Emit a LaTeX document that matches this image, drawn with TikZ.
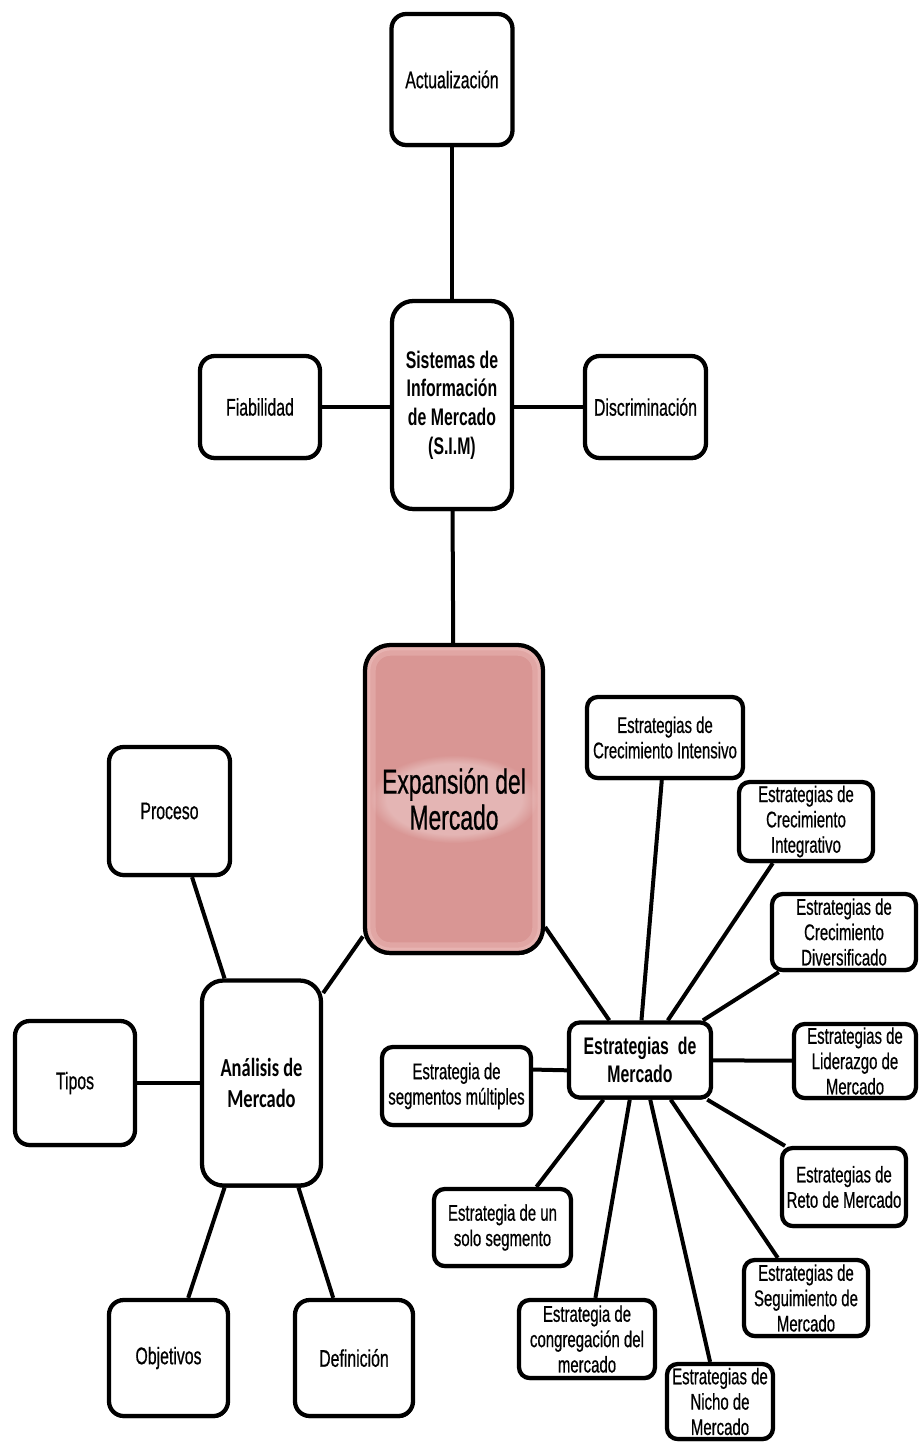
\documentclass[tikz,border=0pt]{standalone}
\usepackage{fontspec}
\setmainfont{Liberation Sans}[FakeStretch=0.66, UprightFeatures={FakeBold=0.6}]
\newfontfamily\calfam{Carlito}[FakeStretch=0.71]
\usetikzlibrary{calc,backgrounds,shadows,fadings}
\definecolor{rosa}{HTML}{D99694}
\definecolor{rosarim}{HTML}{F0C4C3}

\tikzset{
  box/.style={draw=black, line width=3.2pt, fill=white, align=center, inner sep=0pt,
    rounded corners=11pt,
    drop shadow={shadow xshift=0.5pt, shadow yshift=-1.6pt, fill=black, opacity=1}},
  sz/.style 2 args={minimum width=#1*0.75pt, minimum height=#2*0.75pt},
  single/.style={box, font=\fontsize{18pt}{21pt}\selectfont},
  hub/.style={box, rounded corners=14pt, font=\bfseries\fontsize{18pt}{21.5pt}\selectfont},
  leaf/.style={box, rounded corners=8pt, font=\fontsize{17pt}{19pt}\selectfont},
  link/.style={draw=black, line width=3pt}
}

\begin{document}
\begin{tikzpicture}[x=0.75pt,y=-0.75pt]
\path[use as bounding box] (0,0) rectangle (919,1443);

% --- market information system branch ---
\node[single, sz={121}{131}] (act)  at (452,79.5) {Actualización};
\node[hub, sz={120}{208}, rounded corners=16pt] (sim) at (452,405)
  {Sistemas de\\Información\\de Mercado\\(S.I.M)};
\node[single, sz={120}{102}] (fiab) at (260,407) {Fiabilidad};
\node[single, sz={121}{102}] (disc) at (645.5,407) {Discriminación};

% --- central topic: pink box with a light inner rim and a soft glow behind the title ---
\node[box, fill=rosa, rounded corners=19pt, sz={178}{308},
  font=\fontsize{26pt}{27pt}\selectfont,
  path picture={
    \draw[rosarim, line width=16pt, opacity=0.35, rounded corners=19pt]
      (path picture bounding box.south west) rectangle (path picture bounding box.north east);
    \draw[rosarim, line width=8pt, opacity=0.45, rounded corners=19pt]
      (path picture bounding box.south west) rectangle (path picture bounding box.north east);
    \fill[white, opacity=0.3, path fading=circle with fuzzy edge 20 percent]
      (path picture bounding box.center) ellipse [x radius=84, y radius=44];}]
  (exp) at (454,799) {Expansión del\\Mercado};

% --- market analysis branch ---
\node[single, sz={121}{128}] (proc) at (169.5,811) {Proceso};
\node[box, rounded corners=16pt, sz={119}{205},
  font=\calfam\bfseries\fontsize{19.5pt}{23pt}\selectfont] (anal) at (261.5,1083)
  {Análisis de\\Mercado};
\node[single, sz={120}{124}] (tipos) at (75,1083) {Tipos};
\node[single, sz={119}{116}] (obj)  at (168.5,1358) {Objetivos};
\node[single, sz={118}{116}] (defn) at (354,1358) {Definición};

% --- market strategies branch ---
\node[hub, rounded corners=8pt, sz={142}{75}] (em) at (640,1060)
  {Estrategias\ \ de\\Mercado};
\node[leaf, sz={156}{81}] (eci)    at (665,737.5) {Estrategias de\\Crecimiento Intensivo};
\node[leaf, sz={134}{79}] (ecint)  at (806,821.5) {Estrategias de\\Crecimiento\\Integrativo};
\node[leaf, sz={144}{76}] (ecd)    at (844,932)   {Estrategias de\\Crecimiento\\Diversificado};
\node[leaf, sz={122}{74}] (elm)    at (855,1061)  {Estrategias de\\Liderazgo de\\Mercado};
\node[leaf, sz={124}{78}] (erm)    at (844,1187)  {Estrategias de\\Reto de Mercado};
\node[leaf, sz={124}{76}] (esm)    at (806,1298)  {Estrategias de\\Seguimiento de\\Mercado};
\node[leaf, sz={106}{75}] (enm)    at (720,1401.5){Estrategias de\\Nicho de\\Mercado};
\node[leaf, sz={136}{78}] (ecm)    at (587,1339)  {Estrategia de\\congregación del\\mercado};
\node[leaf, sz={137}{77}] (euss)   at (502.5,1227.5) {Estrategia de un\\solo segmento};
\node[leaf, sz={149}{78}] (esmult) at (456.5,1086) {Estrategia de\\segmentos múltiples};

\begin{scope}[on background layer]
  \fill[white] (0,0) rectangle (919,1443);
  % information system
  \draw[link] (act) -- (sim);
  \draw[link] (fiab) -- (fiab -| sim.west);
  \draw[link] (disc) -- (disc -| sim.east);
  \draw[link] (sim) -- (exp);
  % analysis
  \draw[link] ($(exp.north west)!0.94!(exp.south west)$) -- ($(anal.north east)!0.07!(anal.south east)$);
  \draw[link] ($(proc.south west)!0.68!(proc.south east)$) -- ($(anal.north west)!0.2!(anal.north east)$);
  \draw[link] (tipos) -- (anal);
  \draw[link] ($(anal.south west)!0.2!(anal.south east)$) -- ($(obj.north west)!0.66!(obj.north east)$);
  \draw[link] ($(anal.south west)!0.8!(anal.south east)$) -- ($(defn.north west)!0.33!(defn.north east)$);
  % strategies
  \draw[link] ($(exp.north east)!0.91!(exp.south east)$) -- ($(em.north west)!0.29!(em.north east)$);
  \draw[link] ($(em.north west)!0.51!(em.north east)$) -- ($(eci.south west)!0.48!(eci.south east)$);
  \draw[link] ($(em.north west)!0.69!(em.north east)$) -- ($(ecint.south west)!0.26!(ecint.south east)$);
  \draw[link] ($(em.north west)!0.93!(em.north east)$) -- ($(ecd.south west)!0.06!(ecd.south east)$);
  \draw[link] (em) -- (elm);
  \draw[link] ($(em.south west)!0.96!(em.south east)$) -- ($(erm.north west)!0.04!(erm.north east)$);
  \draw[link] ($(em.south west)!0.71!(em.south east)$) -- ($(esm.north west)!0.28!(esm.north east)$);
  \draw[link] ($(em.south west)!0.57!(em.south east)$) -- ($(enm.north west)!0.41!(enm.north east)$);
  \draw[link] ($(em.south west)!0.43!(em.south east)$) -- ($(ecm.north west)!0.56!(ecm.north east)$);
  \draw[link] ($(em.south west)!0.25!(em.south east)$) -- ($(euss.north west)!0.74!(euss.north east)$);
  \draw[link] ($(esmult.north east)!0.3!(esmult.south east)$) -- ($(em.north west)!0.63!(em.south west)$);
\end{scope}
\end{tikzpicture}
\end{document}
